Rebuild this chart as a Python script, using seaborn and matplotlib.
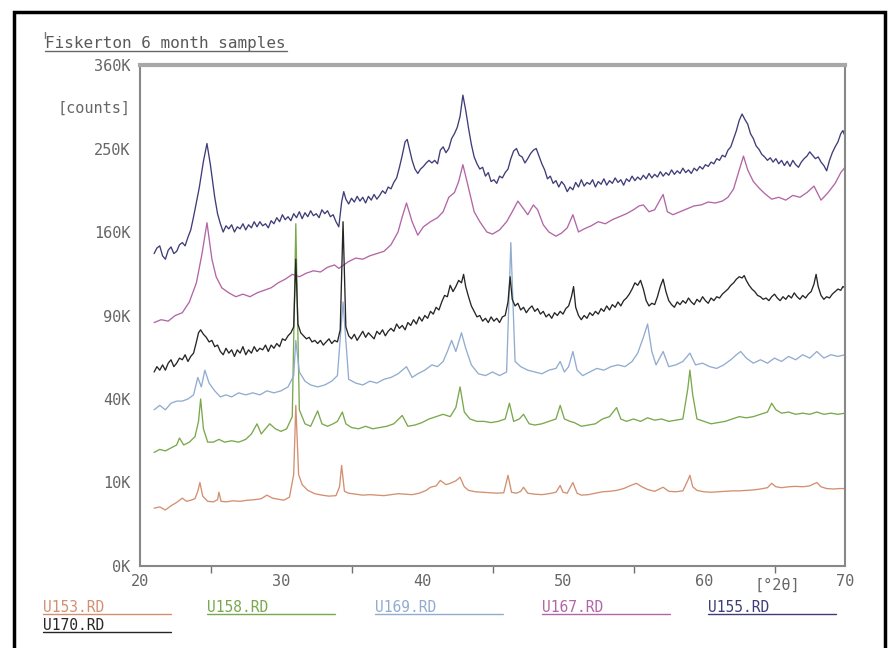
import matplotlib
matplotlib.use("Agg")
import matplotlib.pyplot as plt
import numpy as np
import pandas as pd
import seaborn as sns
from matplotlib.lines import Line2D
from matplotlib.patches import Rectangle

# scans: 2theta (deg) and intensity in thousands of counts
U153_TT = [21.0, 21.4, 21.8, 22.2, 22.6, 23.0, 23.3, 23.6, 23.9, 24.1, 24.25, 24.45, 24.8, 25.2, 25.5,
           25.6, 25.75, 26.1, 26.6, 27.1, 27.6, 28.1, 28.6, 29.0, 29.4, 29.8, 30.2, 30.6, 30.9, 31.05,
           31.25, 31.5, 31.9, 32.4, 32.9, 33.4, 33.9, 34.15, 34.3, 34.5, 34.8, 35.3, 35.8, 36.3, 36.8,
           37.3, 37.8, 38.3, 38.8, 39.3, 39.8, 40.3, 40.6, 41.0, 41.3, 41.7, 42.0, 42.4, 42.7, 43.0,
           43.3, 43.8, 44.3, 44.8, 45.3, 45.8, 46.1, 46.35, 46.7, 47.0, 47.2, 47.5, 48.0, 48.5, 49.0,
           49.5, 49.8, 50.0, 50.3, 50.7, 51.0, 51.3, 51.8, 52.3, 52.8, 53.3, 53.8, 54.3, 54.8, 55.2,
           55.6, 56.0, 56.5, 57.1, 57.5, 58.0, 58.5, 58.85, 59.0, 59.2, 59.5, 60.0, 60.5, 61.0, 61.5,
           62.0, 62.5, 63.0, 63.5, 64.0, 64.5, 64.8, 65.1, 65.5, 66.0, 66.5, 67.0, 67.5, 68.0, 68.3,
           68.7, 69.2, 69.6, 70.0]
U153_K = [4.8, 5.0, 4.5, 5.2, 5.8, 6.6, 6.0, 6.2, 6.5, 8.0, 10.0, 7.0, 6.0, 5.9, 6.3,
          7.8, 6.0, 5.9, 6.1, 6.0, 6.2, 6.3, 6.5, 7.2, 6.6, 6.4, 6.2, 6.8, 12.0, 37.0,
          12.0, 9.5, 8.2, 7.5, 7.2, 7.0, 7.1, 9.0, 14.5, 8.0, 7.6, 7.4, 7.2, 7.3, 7.2,
          7.1, 7.3, 7.5, 7.4, 7.3, 7.6, 8.2, 8.9, 9.2, 10.5, 9.5, 9.8, 10.4, 11.3, 9.0,
          8.2, 7.9, 7.8, 7.7, 7.6, 7.7, 11.8, 7.8, 7.6, 8.0, 8.9, 7.6, 7.4, 7.3, 7.5,
          7.8, 9.3, 7.8, 7.6, 10.0, 7.6, 7.2, 7.3, 7.6, 7.9, 8.0, 8.2, 8.6, 9.3, 9.8,
          9.0, 8.4, 8.0, 8.9, 8.0, 7.9, 8.1, 10.5, 11.8, 9.0, 8.2, 7.9, 7.8, 7.9, 8.0,
          8.1, 8.1, 8.2, 8.3, 8.5, 8.8, 9.8, 9.0, 8.8, 9.0, 9.1, 9.0, 9.2, 10.0, 9.0,
          8.6, 8.5, 8.6, 8.6]

U158_TT = [21.0, 21.4, 21.8, 22.2, 22.6, 22.8, 23.1, 23.5, 23.9, 24.15, 24.3, 24.5, 24.8, 25.2, 25.6,
           26.0, 26.5, 27.0, 27.5, 27.9, 28.3, 28.6, 28.9, 29.2, 29.6, 30.0, 30.4, 30.8, 31.05, 31.3,
           31.7, 32.1, 32.6, 32.9, 33.3, 33.7, 34.0, 34.35, 34.6, 35.0, 35.5, 36.0, 36.5, 37.0, 37.5,
           38.0, 38.6, 39.0, 39.5, 40.0, 40.5, 41.0, 41.5, 42.0, 42.4, 42.7, 43.0, 43.4, 43.9, 44.4,
           44.9, 45.4, 45.9, 46.2, 46.5, 46.9, 47.2, 47.6, 48.0, 48.5, 49.0, 49.5, 49.8, 50.1, 50.5,
           50.8, 51.3, 51.8, 52.3, 52.8, 53.3, 53.8, 54.1, 54.5, 55.0, 55.5, 56.0, 56.5, 57.0, 57.5,
           58.0, 58.5, 58.85, 59.0, 59.2, 59.5, 60.0, 60.5, 61.0, 61.5, 62.0, 62.5, 63.0, 63.5, 64.0,
           64.5, 64.8, 65.1, 65.5, 66.0, 66.5, 67.0, 67.5, 68.0, 68.5, 69.0, 69.5, 70.0]
U158_K = [18.5, 19.5, 19.0, 20.0, 21.0, 23.5, 21.0, 22.0, 24.0, 30.0, 40.0, 27.0, 22.0, 22.0, 23.0,
          22.0, 22.5, 22.0, 23.0, 25.0, 29.0, 25.0, 27.0, 29.0, 27.0, 26.0, 27.0, 32.0, 168.0, 35.0,
          29.0, 28.0, 34.5, 29.0, 28.0, 29.0, 30.0, 34.0, 29.0, 27.5, 27.0, 28.0, 27.0, 27.5, 28.0,
          29.0, 32.5, 28.0, 28.5, 29.5, 31.0, 32.0, 33.0, 32.0, 36.0, 46.0, 34.0, 31.0, 30.0, 30.0,
          29.5, 30.0, 31.0, 38.0, 30.0, 31.0, 33.0, 29.0, 28.5, 29.0, 30.0, 31.0, 37.0, 31.0, 30.0,
          29.5, 28.0, 28.5, 29.0, 31.0, 32.0, 36.0, 31.0, 30.0, 31.0, 30.0, 31.5, 30.5, 31.0, 30.0,
          30.5, 31.0, 45.0, 55.0, 42.0, 31.0, 30.0, 29.0, 29.5, 30.0, 31.0, 32.0, 31.5, 32.0, 33.0,
          34.0, 38.0, 35.0, 33.5, 34.0, 33.0, 33.5, 33.0, 34.0, 33.0, 33.5, 33.0, 33.5]

U169_TT = [21.0, 21.4, 21.8, 22.2, 22.6, 23.0, 23.4, 23.8, 24.1, 24.35, 24.6, 24.9, 25.3, 25.7, 26.1,
           26.5, 27.0, 27.5, 28.0, 28.5, 29.0, 29.5, 30.0, 30.5, 30.9, 31.05, 31.3, 31.7, 32.1, 32.6,
           33.1, 33.6, 34.0, 34.4, 34.8, 35.3, 35.8, 36.3, 36.8, 37.3, 37.8, 38.3, 38.9, 39.3, 39.7,
           40.2, 40.7, 41.1, 41.5, 41.8, 42.1, 42.4, 42.8, 43.1, 43.5, 44.0, 44.5, 45.0, 45.5, 46.0,
           46.3, 46.6, 47.0, 47.5, 48.0, 48.5, 49.0, 49.5, 49.8, 50.1, 50.4, 50.7, 51.0, 51.4, 51.9,
           52.4, 52.9, 53.4, 53.9, 54.4, 54.9, 55.3, 55.7, 56.0, 56.3, 56.6, 57.1, 57.5, 58.0, 58.5,
           59.0, 59.4, 59.9, 60.4, 60.9, 61.4, 61.9, 62.3, 62.6, 63.0, 63.5, 64.0, 64.5, 65.0, 65.5,
           66.0, 66.5, 67.0, 67.5, 68.0, 68.5, 69.0, 69.5, 70.0]
U169_K = [35, 37, 35, 38, 39, 39, 40, 42, 51, 46, 55, 48, 44, 41, 42,
          41, 43, 42, 43, 42, 44, 43, 44, 46, 52, 73, 54, 49, 47, 46,
          47, 49, 52, 100, 50, 48, 47, 49, 48, 50, 51, 53, 57, 51, 53,
          55, 58, 57, 60, 66, 73, 66, 78, 68, 58, 53, 52, 54, 52, 54,
          150, 60, 57, 55, 54, 53, 55, 56, 60, 54, 57, 66, 55, 52, 54,
          56, 55, 57, 58, 57, 60, 65, 75, 84, 66, 58, 66, 57, 58, 60,
          65, 58, 59, 57, 56, 58, 61, 64, 66, 62, 59, 61, 59, 62, 60,
          63, 61, 64, 62, 66, 62, 64, 63, 64]

U167_TT = [21.0, 21.5, 22.0, 22.5, 23.0, 23.5, 24.0, 24.4, 24.75, 25.1, 25.4, 25.8, 26.3, 26.8, 27.3,
           27.8, 28.3, 28.8, 29.3, 29.8, 30.3, 30.8, 31.3, 31.8, 32.3, 32.8, 33.3, 33.8, 34.1, 34.8,
           35.3, 35.8, 36.3, 36.8, 37.3, 37.8, 38.3, 38.6, 38.9, 39.3, 39.7, 40.1, 40.6, 41.1, 41.5,
           41.9, 42.3, 42.6, 42.9, 43.3, 43.7, 44.1, 44.6, 45.0, 45.5, 46.0, 46.4, 46.8, 47.1, 47.5,
           47.9, 48.2, 48.6, 49.0, 49.5, 49.9, 50.3, 50.7, 51.1, 51.5, 52.0, 52.5, 53.0, 53.5, 54.0,
           54.5, 55.0, 55.4, 55.7, 56.1, 56.5, 56.8, 57.1, 57.4, 57.8, 58.3, 58.8, 59.3, 59.8, 60.3,
           60.8, 61.3, 61.7, 62.1, 62.5, 62.8, 63.1, 63.5, 63.9, 64.3, 64.8, 65.3, 65.8, 66.3, 66.8,
           67.3, 67.8, 68.3, 68.8, 69.3, 69.7, 70.0]
U167_K = [85, 87, 86, 90, 92, 100, 115, 140, 169, 135, 120, 111, 107, 104, 106,
          104, 107, 109, 111, 115, 118, 122, 120, 123, 125, 124, 128, 130, 127, 133,
          136, 135, 138, 140, 142, 148, 160, 175, 189, 170, 157, 165, 170, 174, 180,
          195, 200, 212, 231, 205, 180, 170, 160, 158, 162, 170, 180, 191, 185, 177,
          187, 182, 167, 160, 156, 159, 164, 177, 160, 163, 166, 170, 168, 172, 175,
          178, 182, 186, 187, 180, 182, 190, 198, 180, 177, 180, 183, 186, 187, 190,
          189, 191, 195, 204, 225, 241, 225, 212, 205, 199, 193, 195, 192, 197, 195,
          200, 207, 192, 200, 210, 222, 228]

U155_TT = [21.0, 21.2, 21.4, 21.6, 21.8, 22.0, 22.2, 22.4, 22.6, 22.8,
           23.0, 23.2, 23.4, 23.6, 23.8, 24.0, 24.2, 24.5, 24.75, 25.0,
           25.3, 25.5, 25.7, 25.9, 26.1, 26.3, 26.5, 26.7, 26.9, 27.1,
           27.3, 27.5, 27.7, 27.9, 28.1, 28.3, 28.5, 28.7, 28.9, 29.1,
           29.3, 29.5, 29.7, 29.9, 30.1, 30.3, 30.5, 30.7, 30.9, 31.1,
           31.3, 31.5, 31.7, 31.9, 32.1, 32.3, 32.5, 32.7, 32.9, 33.1,
           33.3, 33.5, 33.7, 33.9, 34.1, 34.3, 34.45, 34.6, 34.8, 35.0,
           35.2, 35.4, 35.6, 35.8, 36.0, 36.2, 36.4, 36.6, 36.8, 37.0,
           37.2, 37.4, 37.6, 37.8, 38.0, 38.2, 38.4, 38.6, 38.8, 38.95,
           39.1, 39.3, 39.5, 39.7, 39.9, 40.1, 40.3, 40.5, 40.7, 40.9,
           41.1, 41.3, 41.5, 41.7, 41.9, 42.1, 42.3, 42.5, 42.7, 42.9,
           43.1, 43.3, 43.5, 43.7, 43.9, 44.1, 44.3, 44.5, 44.7, 44.9,
           45.1, 45.3, 45.5, 45.7, 45.9, 46.1, 46.3, 46.5, 46.7, 46.9,
           47.1, 47.3, 47.5, 47.7, 47.9, 48.1, 48.3, 48.5, 48.7, 48.9,
           49.1, 49.3, 49.5, 49.7, 49.9, 50.1, 50.3, 50.5, 50.7, 50.9,
           51.1, 51.3, 51.5, 51.7, 51.9, 52.1, 52.3, 52.5, 52.7, 52.9,
           53.1, 53.3, 53.5, 53.7, 53.9, 54.1, 54.3, 54.5, 54.7, 54.9,
           55.1, 55.3, 55.5, 55.7, 55.9, 56.1, 56.3, 56.5, 56.7, 56.9,
           57.1, 57.3, 57.5, 57.7, 57.9, 58.1, 58.3, 58.5, 58.7, 58.9,
           59.1, 59.3, 59.5, 59.7, 59.9, 60.1, 60.3, 60.5, 60.7, 60.9,
           61.1, 61.3, 61.5, 61.7, 61.9, 62.1, 62.3, 62.5, 62.7, 62.9,
           63.1, 63.3, 63.5, 63.7, 63.9, 64.1, 64.3, 64.5, 64.7, 64.9,
           65.1, 65.3, 65.5, 65.7, 65.9, 66.1, 66.3, 66.5, 66.7, 66.9,
           67.1, 67.3, 67.5, 67.7, 67.9, 68.1, 68.3, 68.5, 68.7, 68.9,
           69.1, 69.3, 69.5, 69.7, 69.85, 70.0]
U155_K = [140, 145, 147, 138, 135, 143, 146, 140, 142, 148,
          150, 147, 155, 162, 175, 190, 205, 235, 256, 230,
          195, 178, 168, 160, 166, 163, 167, 160, 165, 163,
          168, 162, 167, 164, 170, 165, 170, 166, 168, 164,
          171, 168, 174, 170, 177, 172, 175, 171, 178, 174,
          180, 173, 179, 175, 181, 176, 178, 174, 182, 178,
          181, 175, 177, 170, 165, 190, 201, 193, 188, 194,
          190, 196, 191, 195, 189, 196, 192, 198, 193, 197,
          202, 199, 206, 204, 211, 216, 228, 242, 258, 261,
          250, 236, 226, 221, 226, 229, 233, 236, 233, 236,
          232, 248, 252, 245, 250, 262, 268, 276, 290, 318,
          298, 275, 255, 240, 232, 226, 228, 218, 222, 212,
          214, 210, 218, 216, 222, 226, 238, 247, 250, 242,
          240, 233, 238, 244, 248, 250, 241, 232, 225, 215,
          218, 210, 213, 206, 212, 208, 201, 206, 203, 211,
          206, 214, 207, 211, 209, 214, 206, 212, 209, 215,
          208, 213, 210, 216, 211, 214, 208, 215, 212, 218,
          213, 217, 214, 219, 215, 221, 216, 220, 217, 223,
          218, 222, 219, 225, 220, 224, 221, 227, 222, 225,
          221, 227, 224, 229, 226, 231, 229, 234, 232, 238,
          236, 242, 240, 248, 252, 262, 272, 285, 293, 286,
          280, 268, 262, 253, 249, 243, 240, 236, 239, 234,
          238, 232, 236, 230, 235, 229, 236, 231, 228, 234,
          238, 241, 246, 242, 238, 240, 234, 230, 224, 236,
          245, 252, 258, 268, 272, 265]

U170_TT = [21.0, 21.2, 21.4, 21.6, 21.8, 22.0, 22.2, 22.4, 22.6, 22.8,
           23.0, 23.2, 23.4, 23.6, 23.8, 24.0, 24.15, 24.3, 24.5, 24.7,
           24.9, 25.1, 25.3, 25.5, 25.7, 25.9, 26.1, 26.3, 26.5, 26.7,
           26.9, 27.1, 27.3, 27.5, 27.7, 27.9, 28.1, 28.3, 28.5, 28.7,
           28.9, 29.1, 29.3, 29.5, 29.7, 29.9, 30.1, 30.3, 30.5, 30.7,
           30.9, 31.05, 31.2, 31.4, 31.6, 31.8, 32.0, 32.2, 32.4, 32.6,
           32.8, 33.0, 33.2, 33.4, 33.6, 33.8, 34.0, 34.2, 34.4, 34.6,
           34.8, 35.0, 35.2, 35.4, 35.6, 35.8, 36.0, 36.2, 36.4, 36.6,
           36.8, 37.0, 37.2, 37.4, 37.6, 37.8, 38.0, 38.2, 38.4, 38.6,
           38.8, 39.0, 39.2, 39.4, 39.6, 39.8, 40.0, 40.2, 40.4, 40.6,
           40.8, 41.0, 41.2, 41.4, 41.6, 41.8, 42.0, 42.2, 42.4, 42.6,
           42.8, 42.95, 43.1, 43.3, 43.5, 43.7, 43.9, 44.1, 44.3, 44.5,
           44.7, 44.9, 45.1, 45.3, 45.5, 45.7, 45.9, 46.1, 46.25, 46.4,
           46.6, 46.8, 47.0, 47.2, 47.4, 47.6, 47.8, 48.0, 48.2, 48.4,
           48.6, 48.8, 49.0, 49.2, 49.4, 49.6, 49.8, 50.0, 50.2, 50.4,
           50.6, 50.75, 50.9, 51.1, 51.3, 51.5, 51.7, 51.9, 52.1, 52.3,
           52.5, 52.7, 52.9, 53.1, 53.3, 53.5, 53.7, 53.9, 54.1, 54.3,
           54.5, 54.7, 54.9, 55.1, 55.3, 55.5, 55.7, 55.9, 56.1, 56.3,
           56.5, 56.7, 56.9, 57.1, 57.3, 57.5, 57.7, 57.9, 58.1, 58.3,
           58.5, 58.7, 58.9, 59.1, 59.3, 59.5, 59.7, 59.9, 60.1, 60.3,
           60.5, 60.7, 60.9, 61.1, 61.3, 61.5, 61.7, 61.9, 62.1, 62.3,
           62.5, 62.7, 62.85, 63.0, 63.2, 63.4, 63.6, 63.8, 64.0, 64.2,
           64.4, 64.6, 64.8, 65.0, 65.2, 65.4, 65.6, 65.8, 66.0, 66.2,
           66.4, 66.6, 66.8, 67.0, 67.2, 67.4, 67.6, 67.8, 67.95, 68.1,
           68.3, 68.5, 68.7, 68.9, 69.1, 69.3, 69.5, 69.7, 69.85, 70.0]
U170_K = [54, 57, 55, 58, 55, 59, 61, 57, 59, 62,
          61, 64, 60, 63, 65, 72, 78, 80, 77, 75,
          72, 73, 69, 70, 66, 64, 68, 65, 67, 63,
          67, 65, 69, 64, 67, 65, 69, 66, 68, 67,
          70, 66, 70, 68, 71, 69, 74, 73, 76, 78,
          82, 135, 84, 78, 76, 74, 75, 72, 73, 71,
          73, 70, 72, 74, 71, 73, 72, 80, 170, 82,
          76, 74, 77, 73, 76, 79, 75, 78, 76, 74,
          79, 77, 80, 76, 79, 81, 79, 84, 81, 83,
          80, 85, 83, 87, 84, 89, 86, 90, 88, 93,
          91, 96, 94, 100, 105, 104, 113, 108, 112, 117,
          115, 122, 112, 104, 97, 93, 89, 90, 86, 88,
          85, 89, 86, 88, 85, 89, 90, 100, 120, 102,
          97, 99, 94, 96, 92, 95, 97, 93, 95, 91,
          93, 89, 91, 88, 92, 90, 93, 91, 95, 97,
          104, 112, 96, 90, 87, 90, 88, 92, 90, 93,
          91, 95, 93, 97, 94, 98, 96, 100, 97, 101,
          103, 106, 110, 115, 113, 117, 110, 101, 97, 99,
          98, 104, 112, 118, 108, 101, 98, 96, 100, 98,
          101, 99, 103, 100, 98, 102, 100, 104, 101, 99,
          103, 101, 104, 103, 106, 108, 110, 113, 115, 118,
          120, 119, 121, 117, 113, 110, 108, 105, 104, 102,
          103, 101, 104, 106, 103, 101, 104, 102, 105, 103,
          107, 104, 102, 105, 103, 106, 108, 114, 122, 112,
          105, 102, 104, 103, 106, 108, 110, 109, 112, 111]

SAMPLES = ["U153.RD", "U158.RD", "U169.RD", "U167.RD", "U155.RD", "U170.RD"]
COLORS = {"U153.RD": "#d39070", "U158.RD": "#7aa84c", "U169.RD": "#92acd0",
          "U167.RD": "#b266a6", "U155.RD": "#3f3d78", "U170.RD": "#262626"}

YTICKS = [0, 10, 40, 90, 160, 250, 302.5, 360]
YTICK_LABELS = ["0K", "10K", "40K", "90K", "160K", "250K", "[counts]", "360K"]

scans = {"U153.RD": (U153_TT, U153_K), "U158.RD": (U158_TT, U158_K),
         "U169.RD": (U169_TT, U169_K), "U167.RD": (U167_TT, U167_K),
         "U155.RD": (U155_TT, U155_K), "U170.RD": (U170_TT, U170_K)}
df = pd.concat([pd.DataFrame({"two_theta": tt, "kcounts": k, "sample": name})
                for name, (tt, k) in scans.items()], ignore_index=True)

sns.set_style("white")
plt.rcParams["font.family"] = ["DejaVu Sans Mono", "DejaVu Sans"]
GREY = "#707070"
TXT = "#666666"

fig = plt.figure(figsize=(8.94, 6.48), dpi=100)
W, H = 894, 648
ax = fig.add_axes([140 / W, 1 - 566 / H, (845 - 140) / W, (566 - 65) / H])

sns.lineplot(data=df, x="two_theta", y="kcounts", hue="sample", hue_order=SAMPLES,
             palette=COLORS, sort=False, estimator=None, legend=False,
             linewidth=0.95, ax=ax)

# square-root intensity axis like the diffractometer software
ax.set_yscale("function", functions=(lambda v: np.sqrt(np.clip(v, 0, None)), lambda v: v ** 2))
ax.set_xlim(20, 70)
ax.set_ylim(0, 360)
ax.set_xlabel("")
ax.set_ylabel("")

ax.set_yticks(YTICKS)
ax.set_yticklabels(YTICK_LABELS)
ax.set_yticks([2.5, 22.5, 62.5, 122.5, 202.5], minor=True)
ax.set_xticks(range(20, 71, 10))
ax.set_xticks(range(21, 70), minor=True)
ax.tick_params(axis="y", which="both", direction="out", length=4, width=1, color=GREY,
               labelsize=11, labelcolor=TXT, pad=3)
ax.tick_params(axis="x", which="major", direction="in", length=6, width=1, color=GREY,
               labelsize=11, labelcolor=TXT, pad=6)
ax.tick_params(axis="x", which="minor", direction="in", length=3, width=1, color=GREY)

# half-decade ticks hang below the axis
sec = ax.secondary_xaxis("bottom")
sec.set_xticks([25, 35, 45, 55, 65])
sec.set_xticklabels([])
sec.tick_params(direction="out", length=5, width=1, color=GREY)
sec.spines["bottom"].set_visible(False)

ax.text(65.2, -0.023, "[\u00b02\u03b8]", transform=ax.get_xaxis_transform(),
        ha="center", va="top", fontsize=11, color=TXT)

for side in ["left", "bottom", "right"]:
    ax.spines[side].set_color("#888888")
    ax.spines[side].set_linewidth(1.5)
ax.spines["top"].set_color("#a8a8a8")
ax.spines["top"].set_linewidth(3)

# title, underlined like the plotter output
fig.text(45 / W, 1 - 48 / H, "Fiskerton 6 month samples", fontsize=11.5,
         color="#5a5a5a", ha="left", va="baseline")
fig.add_artist(Line2D([45 / W, 287 / W], [1 - 50.5 / H, 1 - 50.5 / H], color="#666666", lw=1))
fig.add_artist(Line2D([45 / W, 45 / W], [1 - 32 / H, 1 - 38 / H], color="#777777", lw=1))

# legend: label with a coloured underline
legend_pos = {"U153.RD": (43, 613), "U158.RD": (207, 613), "U169.RD": (375, 613),
              "U167.RD": (542, 613), "U155.RD": (708, 613), "U170.RD": (43, 631)}
for name, (x0, y0) in legend_pos.items():
    fig.text(x0 / W, 1 - (y0 - 1) / H, name, fontsize=10.5, color=COLORS[name],
             ha="left", va="baseline")
    fig.add_artist(Line2D([x0 / W, (x0 + 128) / W], [1 - (y0 + 1) / H, 1 - (y0 + 1) / H],
                          color=COLORS[name], lw=1))

# outer frame of the scanned page
fig.add_artist(Rectangle((14 / W, -0.02), (885 - 14) / W, 1.02 - 12 / H,
                         fill=False, edgecolor="black", lw=2.5, transform=fig.transFigure))

fig.savefig("out.png", dpi=100)
